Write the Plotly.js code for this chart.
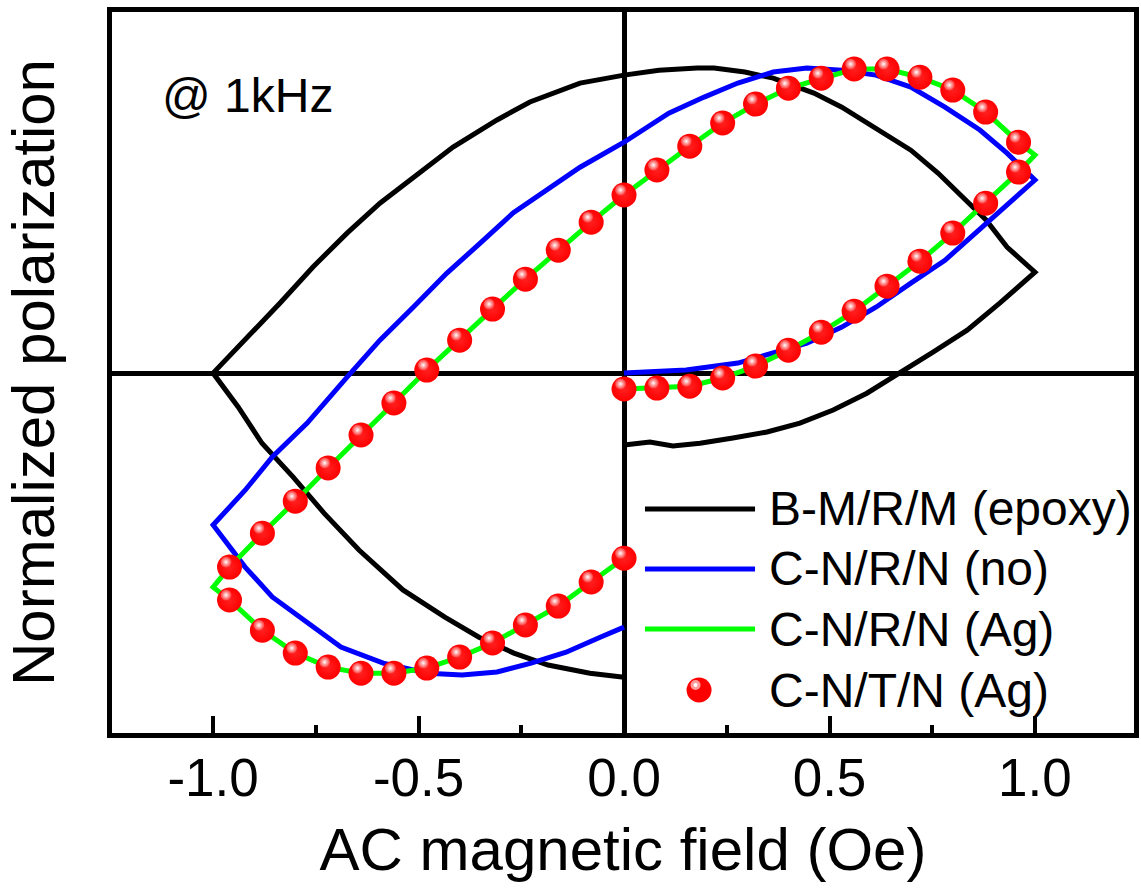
<!DOCTYPE html>
<html>
<head>
<meta charset="utf-8">
<script src="https://cdn.plot.ly/plotly-3.0.1.min.js"></script>
<style>html,body{margin:0;padding:0;background:#fff;}#chart{width:1141px;height:892px;}</style>
</head>
<body>
<div id="chart"></div>
<script>
// ---- data ----
var seriesNames = ["B-M/R/M (epoxy)", "C-N/R/N (no)", "C-N/R/N (Ag)", "C-N/T/N (Ag)"];

var blackX = [0, 0.063, 0.119, 0.185, 0.265, 0.348, 0.428, 0.509, 0.591, 0.672, 0.752, 0.835, 0.915, 1.0,
  0.932, 0.881, 0.822, 0.764, 0.698, 0.613, 0.530, 0.462, 0.363, 0.294, 0.219, 0.178, 0.085, 0,
  -0.107, -0.229, -0.309, -0.416, -0.513, -0.594, -0.674, -0.757, -0.837, -0.917, -1.0,
  -0.939, -0.881, -0.805, -0.730, -0.645, -0.538, -0.436, -0.353, -0.268, -0.185, -0.083, 0];
var blackY = [-0.236, -0.226, -0.239, -0.230, -0.213, -0.193, -0.164, -0.121, -0.066, 0, 0.069, 0.141, 0.230, 0.331,
  0.413, 0.502, 0.577, 0.656, 0.731, 0.803, 0.872, 0.918, 0.967, 0.987, 1.0, 1.0, 0.993, 0.977,
  0.951, 0.889, 0.830, 0.741, 0.643, 0.557, 0.459, 0.348, 0.230, 0.118, 0,
  -0.111, -0.230, -0.341, -0.459, -0.580, -0.711, -0.800, -0.866, -0.918, -0.957, -0.984, -0.997];

var blueX = [0, 0.151, 0.277, 0.363, 0.445, 0.530, 0.613, 0.698, 0.781, 0.866, 1.0,
  0.932, 0.866, 0.781, 0.698, 0.613, 0.530, 0.445, 0.363, 0.277, 0.195, 0.109, 0,
  -0.107, -0.187, -0.270, -0.350, -0.431, -0.513, -0.594, -0.674, -0.771, -0.856, -0.922, -1.0,
  -0.922, -0.856, -0.771, -0.689, -0.586, -0.477, -0.394, -0.309, -0.226, -0.141, -0.058, 0];
var blueY = [0, 0.010, 0.033, 0.066, 0.098, 0.151, 0.216, 0.295, 0.370, 0.472, 0.633,
  0.721, 0.797, 0.872, 0.938, 0.977, 0.993, 1.0, 0.987, 0.951, 0.905, 0.852, 0.757,
  0.675, 0.600, 0.525, 0.426, 0.328, 0.216, 0.108, -0.013, -0.164, -0.275, -0.384, -0.498,
  -0.636, -0.734, -0.820, -0.898, -0.951, -0.984, -0.990, -0.980, -0.951, -0.915, -0.866, -0.833];

var greenX = [0, 0.08, 0.16, 0.24, 0.32, 0.40, 0.48, 0.56, 0.64, 0.72, 0.80, 0.88, 0.96, 1.0,
  0.96, 0.88, 0.80, 0.72, 0.64, 0.56, 0.48, 0.40, 0.32, 0.24, 0.16, 0.08, 0,
  -0.08, -0.16, -0.24, -0.32, -0.40, -0.48, -0.56, -0.64, -0.72, -0.80, -0.88, -0.96, -1.0,
  -0.96, -0.88, -0.80, -0.72, -0.64, -0.56, -0.48, -0.40, -0.32, -0.24, -0.16, -0.08, 0];
var greenY = [-0.052, -0.049, -0.043, -0.016, 0.023, 0.075, 0.134, 0.203, 0.285, 0.367, 0.459, 0.557, 0.659, 0.715,
  0.757, 0.856, 0.928, 0.970, 0.997, 0.997, 0.967, 0.934, 0.882, 0.820, 0.744, 0.666, 0.584,
  0.495, 0.403, 0.308, 0.210, 0.108, 0.010, -0.098, -0.203, -0.311, -0.420, -0.525, -0.636, -0.702,
  -0.744, -0.843, -0.918, -0.964, -0.984, -0.984, -0.967, -0.931, -0.885, -0.826, -0.764, -0.685, -0.607];

var redX = [0, 0.08, 0.16, 0.24, 0.32, 0.40, 0.48, 0.56, 0.64, 0.72, 0.80, 0.88, 0.96,
  0.96, 0.88, 0.80, 0.72, 0.64, 0.56, 0.48, 0.40, 0.32, 0.24, 0.16, 0.08, 0,
  -0.08, -0.16, -0.24, -0.32, -0.40, -0.48, -0.56, -0.64, -0.72, -0.80, -0.88, -0.96,
  -0.96, -0.88, -0.80, -0.72, -0.64, -0.56, -0.48, -0.40, -0.32, -0.24, -0.16, -0.08, 0];
var redY = [-0.052, -0.049, -0.043, -0.016, 0.023, 0.075, 0.134, 0.203, 0.285, 0.367, 0.459, 0.557, 0.659,
  0.757, 0.856, 0.928, 0.970, 0.997, 0.997, 0.967, 0.934, 0.882, 0.820, 0.744, 0.666, 0.584,
  0.495, 0.403, 0.308, 0.210, 0.108, 0.010, -0.098, -0.203, -0.311, -0.420, -0.525, -0.636,
  -0.744, -0.843, -0.918, -0.964, -0.984, -0.984, -0.967, -0.931, -0.885, -0.826, -0.764, -0.685, -0.607];

var xTickVals = [-1.0, -0.5, 0.0, 0.5, 1.0];
var xTickText = ["-1.0", "-0.5", "0.0", "0.5", "1.0"];
var xTitle = "AC magnetic field (Oe)";
var yTitle = "Normalized polarization";
var noteText = "@ 1kHz";

// ---- styling / layout ----
var FONT = "'Liberation Sans', Arial, Helvetica, sans-serif";
var xRange = [-1.246, 1.241];
var yRange = [-1.180, 1.184];
// small pixel offset of the specular highlight on the spheres (up-left)
var hlDx = 3.5 / 411, hlDy = 5 / 305;

var traces = [
  {x: blackX, y: blackY, name: seriesNames[0], mode: "lines", line: {color: "#000000", width: 5}},
  {x: blueX, y: blueY, name: seriesNames[1], mode: "lines", line: {color: "#0000ff", width: 5}},
  {x: greenX, y: greenY, name: seriesNames[2], mode: "lines", line: {color: "#00ff00", width: 5}},
  {x: redX, y: redY, name: seriesNames[3], mode: "markers",
   marker: {size: 25, color: "#ff0000", line: {width: 0},
            gradient: {type: "radial", color: "#ff2020"}}},
  {x: redX, y: redY, name: seriesNames[3] + " highlight", mode: "markers", xaxis: "x2", yaxis: "y2",
   hoverinfo: "skip", showlegend: false,
   marker: {size: 11, color: "rgba(255,60,60,0.9)", line: {width: 0},
            gradient: {type: "radial", color: "#ffffff"}}}
];

// custom legend (long line samples as in the reference)
var legX0 = 0.5215, legX1 = 0.6292, legTextX = 0.641, legMarkX = 0.5744;
var legRows = [0.3107, 0.2275, 0.1442, 0.0596];
var legColors = ["#000000", "#0000ff", "#00ff00"];
var shapes = [];
for (var i = 0; i < 3; i++) {
  shapes.push({type: "line", xref: "paper", yref: "paper", x0: legX0, x1: legX1, y0: legRows[i], y1: legRows[i],
               line: {color: legColors[i], width: 5}});
}
shapes.push({type: "circle", xref: "paper", yref: "paper", xsizemode: "pixel", ysizemode: "pixel",
             xanchor: legMarkX, yanchor: legRows[3], x0: -12.5, x1: 12.5, y0: -12.5, y1: 12.5,
             fillcolor: "#ff0000", line: {width: 0}});
shapes.push({type: "circle", xref: "paper", yref: "paper", xsizemode: "pixel", ysizemode: "pixel",
             xanchor: legMarkX, yanchor: legRows[3], x0: -8.5, x1: 1.5, y0: 0, y1: 10,
             fillcolor: "#ff9a9a", line: {width: 0}});
shapes.push({type: "circle", xref: "paper", yref: "paper", xsizemode: "pixel", ysizemode: "pixel",
             xanchor: legMarkX, yanchor: legRows[3], x0: -5.5, x1: -1.5, y0: 3, y1: 7,
             fillcolor: "#ffffff", line: {width: 0}});

var annotations = [];
for (var j = 0; j < 4; j++) {
  annotations.push({xref: "paper", yref: "paper", x: legTextX, y: legRows[j], xanchor: "left", yanchor: "middle",
                    text: seriesNames[j], showarrow: false, font: {family: FONT, size: 48, color: "#000"}});
}
annotations.push({xref: "paper", yref: "paper", x: 0.047, y: 0.884, xanchor: "left", yanchor: "middle",
                  text: noteText, showarrow: false, font: {family: FONT, size: 48, color: "#000"}});

var layout = {
  width: 1141, height: 892,
  margin: {l: 112, r: 7, t: 12, b: 159, pad: 0},
  paper_bgcolor: "#ffffff", plot_bgcolor: "#ffffff",
  showlegend: false,
  font: {family: FONT, color: "#000"},
  xaxis: {
    range: xRange, showgrid: false,
    zeroline: true, zerolinecolor: "#000", zerolinewidth: 5,
    showline: true, linecolor: "#000", linewidth: 5, mirror: true,
    ticks: "inside", ticklen: 17, tickwidth: 4, tickcolor: "#000",
    tickvals: xTickVals, ticktext: xTickText, ticklabelstandoff: -6,
    tickfont: {family: FONT, size: 53, color: "#000"},
    minor: {ticks: "inside", dtick: 0.25, tick0: 0, ticklen: 8, tickwidth: 4, tickcolor: "#000", showgrid: false},
    title: {text: xTitle, font: {family: FONT, size: 60, color: "#000"}, standoff: 24}
  },
  yaxis: {
    range: yRange, showgrid: false,
    zeroline: true, zerolinecolor: "#000", zerolinewidth: 5,
    showline: true, linecolor: "#000", linewidth: 5, mirror: true,
    ticks: "", showticklabels: false,
    title: {text: yTitle, font: {family: FONT, size: 60, color: "#000"}, standoff: 36}
  },
  xaxis2: {overlaying: "x", range: [xRange[0] + hlDx, xRange[1] + hlDx], visible: false},
  yaxis2: {overlaying: "y", range: [yRange[0] - hlDy, yRange[1] - hlDy], visible: false},
  shapes: shapes,
  annotations: annotations
};

Plotly.newPlot("chart", traces, layout, {staticPlot: true, displayModeBar: false});
</script>
</body>
</html>
